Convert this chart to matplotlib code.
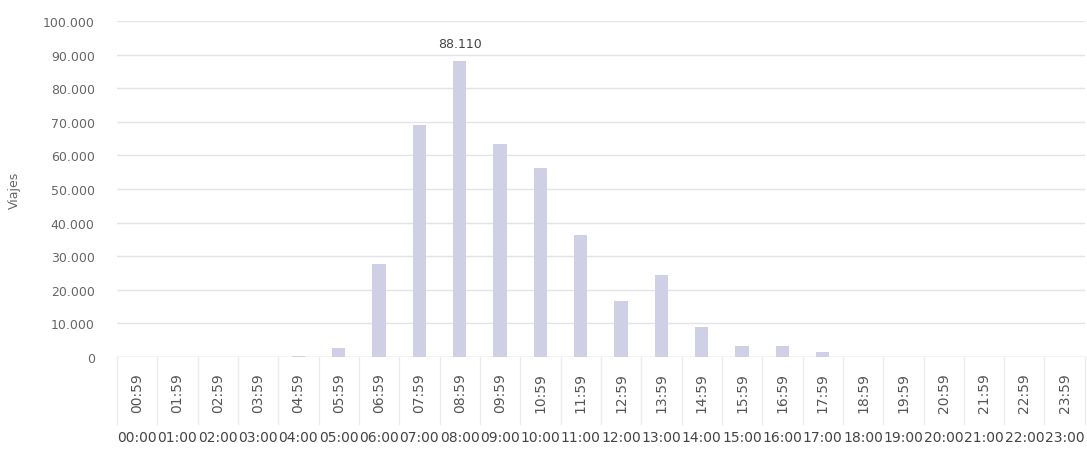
import numpy as np
import matplotlib.pyplot as plt
import matplotlib.transforms as mtransforms

# Datos: viajes por hora
horas_ini = ['%02d:00' % h for h in range(24)]
horas_fin = ['%02d:59' % h for h in range(24)]
viajes = [0, 0, 0, 0, 400, 2800, 27600, 69000, 88110, 63500, 56200, 36300,
          16700, 24500, 8800, 3400, 3400, 1500, 0, 0, 0, 0, 0, 0]
yticks = np.arange(0, 100001, 10000)

fig = plt.figure(figsize=(10.87, 4.52), dpi=100)
ax = fig.add_axes([0.1076, 0.208, 0.8904, 0.743])

x = np.arange(len(viajes))
ax.bar(x, viajes, width=0.33, color='#cfcfe6', zorder=2)

# etiqueta del maximo
imax = int(np.argmax(viajes))
ax.annotate(f'{viajes[imax]:,}'.replace(',', '.'), (x[imax], viajes[imax]),
            xytext=(0, 8), textcoords='offset points', ha='center', va='bottom',
            fontsize=9, color='#444444')

ax.set_xlim(-0.5, len(viajes) - 0.5)
ax.set_ylim(0, 100000)
ax.set_yticks(yticks)
ax.set_yticklabels([f'{v:,}'.replace(',', '.') for v in yticks], fontsize=9, color='#666666')
ax.tick_params(axis='y', length=0, pad=16)
ax.grid(axis='y', color='#e4e4e4', linewidth=1, zorder=0)
ax.set_ylabel('Viajes', fontsize=9, color='#666666', labelpad=16)

# eje x en dos niveles
ax.set_xticks(x)
ax.set_xticklabels(horas_fin, rotation=90, fontsize=10, color='#555555')
ax.tick_params(axis='x', length=0, pad=11)
trans = mtransforms.blended_transform_factory(ax.transData, ax.transAxes)
for i, lab in enumerate(horas_ini):
    ax.text(i, -0.238, lab, transform=trans, ha='center', va='center',
            fontsize=10, color='#444444', clip_on=False)
for b in np.arange(-0.5, len(viajes), 1.0):
    ax.plot([b, b], [0, -0.2], transform=trans, color='#ececec', linewidth=1, clip_on=False)

for s in ax.spines.values():
    s.set_visible(False)
ax.axhline(0, color='#dddddd', linewidth=1, zorder=1)

fig.savefig('out.png', dpi=100)
